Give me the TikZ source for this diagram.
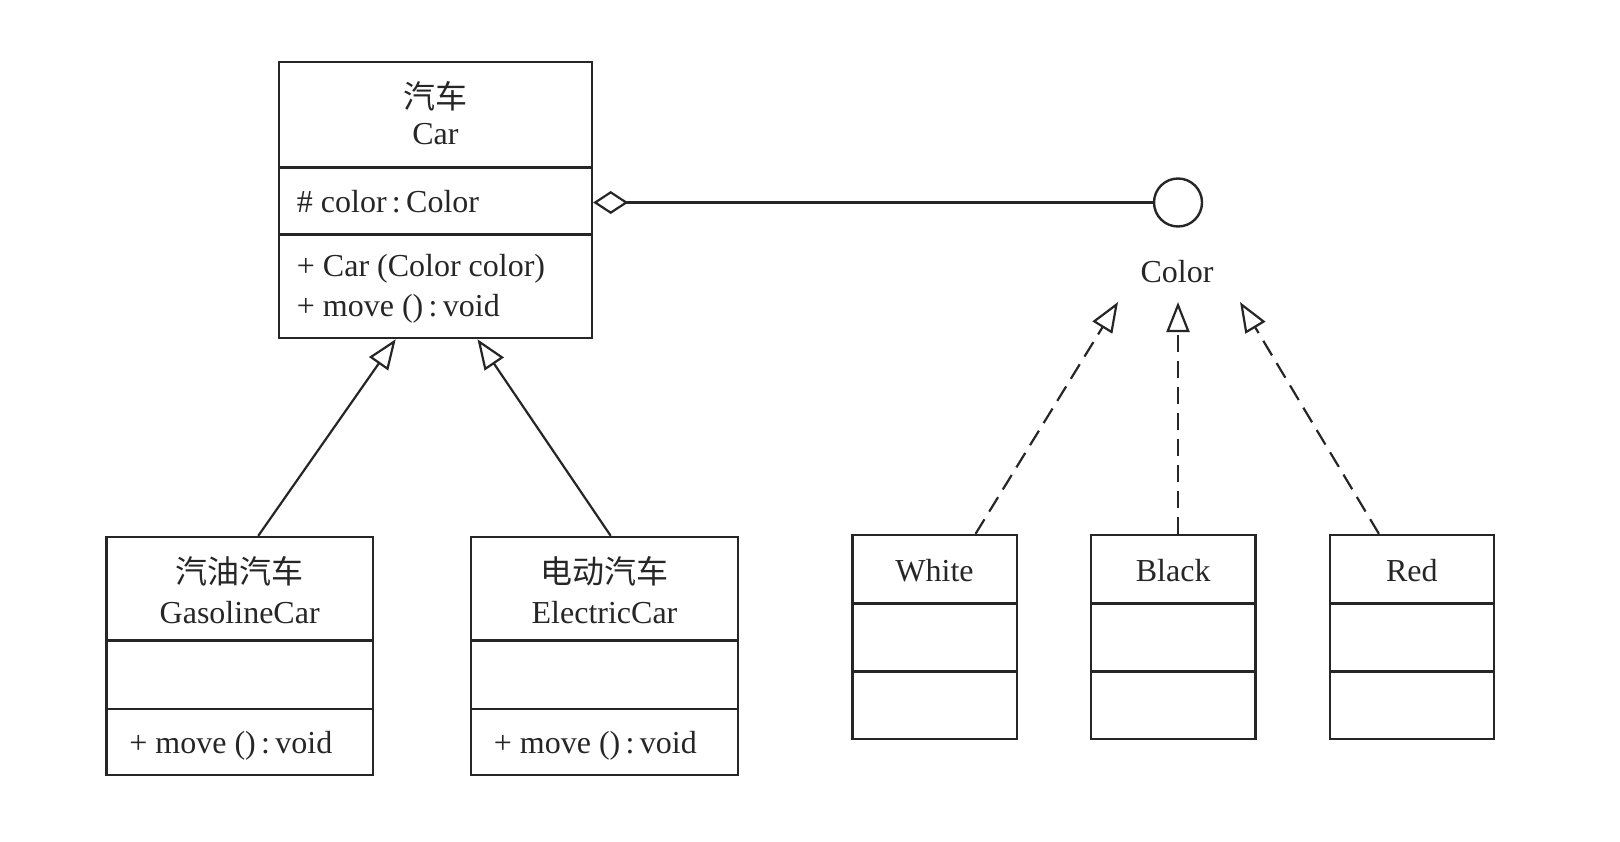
\documentclass[tikz,border=0pt]{standalone}
\usepackage{fontspec}
\setmainfont{Liberation Serif}
\newfontfamily\cjk{Noto Sans CJK SC}
\usetikzlibrary{arrows.meta,calc}
\definecolor{ink}{HTML}{262626}
\begin{document}
\begin{tikzpicture}[x=0.5pt,y=-0.5pt,
  every node/.style={font=\fontsize{16}{19}\selectfont, text=ink},
  box/.style={draw=ink, line width=1.2pt, inner sep=0pt},
  sep/.style={draw=ink, line width=1.2pt},
  inherit/.style={draw=ink, line width=1.1pt, -{Triangle[open,length=15pt,width=11.5pt]}},
  realize/.style={inherit, dash pattern=on 8.5pt off 4.5pt},
  aggr/.style={draw=ink, line width=1.1pt, {Diamond[open,length=17.5pt,width=11.5pt]}-}]
\useasboundingbox (0,0) rectangle (1620,841);

% class Car
\node[box, minimum width=156.5pt, minimum height=138pt] (car) at (435.5,200) {};
\draw[sep] (car.west |- 0,167.4) -- (car.east |- 0,167.4);
\draw[sep] (car.west |- 0,234.5) -- (car.east |- 0,234.5);
\node[anchor=base] (car-cn) at (435.5,108) {\cjk 汽车};
\node[anchor=base] (car-en) at (435.5,144) {Car};
\node[anchor=base west, inner sep=0pt] (car-attr) at (296.5,212.5) {\# color\,:\,Color};
\node[anchor=base west, inner sep=0pt] (car-op1) at (296.5,276.5) {+ Car (Color color)};
\node[anchor=base west, inner sep=0pt] (car-op2) at (296.5,316) {+ move ()\,:\,void};

% interface Color
\node[draw=ink, line width=1.2pt, circle, minimum size=24pt, inner sep=0pt] (iface) at (1178,202.5) {};
\node[anchor=base] (iface-name) at (1177,282) {Color};
\draw[aggr] (iface.west -| car.east) -- (iface.west);

% class GasolineCar
\node[box, minimum width=133.3pt, minimum height=119pt] (gas) at (239.7,656) {};
\draw[sep] (gas.west |- 0,640.6) -- (gas.east |- 0,640.6);
\draw[sep] (gas.west |- 0,708.8) -- (gas.east |- 0,708.8);
\node[anchor=base] (gas-cn) at (239.7,583) {\cjk 汽油汽车};
\node[anchor=base] (gas-en) at (239.7,623) {GasolineCar};
\node[anchor=base west, inner sep=0pt] (gas-op) at (129,753) {+ move ()\,:\,void};

% class ElectricCar
\node[box, minimum width=133.3pt, minimum height=119pt] (ele) at (604.5,656) {};
\draw[sep] (ele.west |- 0,640.6) -- (ele.east |- 0,640.6);
\draw[sep] (ele.west |- 0,708.8) -- (ele.east |- 0,708.8);
\node[anchor=base] (ele-cn) at (604.5,583) {\cjk 电动汽车};
\node[anchor=base] (ele-en) at (604.5,623) {ElectricCar};
\node[anchor=base west, inner sep=0pt] (ele-op) at (493.5,753) {+ move ()\,:\,void};

% generalisation
\draw[inherit] ($(gas.north west)!0.569!(gas.north east)$) -- ($(car.south west)!0.374!(car.south east)$);
\draw[inherit] ($(ele.north west)!0.523!(ele.north east)$) -- ($(car.south west)!0.633!(car.south east)$);

% colour classes
\foreach \nm/\cx/\lbl in {white/934.55/White, black/1173.2/Black, red/1411.9/Red}{
  \node[box, minimum width=82.15pt, minimum height=101.85pt] (\nm) at (\cx,636.85) {};
  \draw[sep] (\nm.west |- 0,603.4) -- (\nm.east |- 0,603.4);
  \draw[sep] (\nm.west |- 0,671.6) -- (\nm.east |- 0,671.6);
  \node[anchor=base] (\nm-name) at (\cx,581) {\lbl};
}

% realisation
\coordinate (tw) at (1118,302);
\coordinate (tb) at (1178,302);
\coordinate (tr) at (1240,302);
\draw[realize] ($(white.north west)!0.746!(white.north east)$) -- (tw);
\draw[realize] (black.north -| tb) -- (tb);
\draw[realize] ($(red.north west)!0.302!(red.north east)$) -- (tr);
\end{tikzpicture}
\end{document}
